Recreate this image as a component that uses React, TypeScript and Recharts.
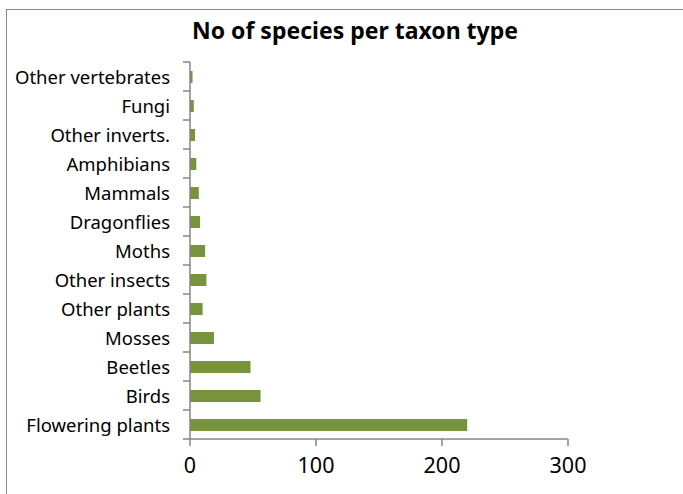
import { BarChart, Bar, XAxis, YAxis } from 'recharts'

// top to bottom, as drawn
const taxa = [
  'Other vertebrates',
  'Fungi',
  'Other inverts.',
  'Amphibians',
  'Mammals',
  'Dragonflies',
  'Moths',
  'Other insects',
  'Other plants',
  'Mosses',
  'Beetles',
  'Birds',
  'Flowering plants',
]
const species = [2, 3, 4, 5, 7, 8, 12, 13, 10, 19, 48, 56, 220]
const xTicks = [0, 100, 200, 300]

const data = taxa.map((t, i) => ({ taxon: t, n: species[i] }))

const W = 683
const H = 494
const TOP = 62
const BOTTOM = 439
const BAND = (BOTTOM - TOP) / taxa.length
const GREY = '#868686'
const FONT = '"Noto Sans", "Open Sans", sans-serif'

function TaxonTick(props: any) {
  const { x, y, payload, index } = props
  const ax = x + 20
  return (
    <g>
      <text
        x={x}
        y={y}
        textAnchor="end"
        dominantBaseline="central"
        fontFamily={FONT}
        fontSize={18.5}
        fill="#000"
      >
        {payload.value}
      </text>
      <line x1={ax - 7} x2={ax} y1={y - BAND / 2} y2={y - BAND / 2} stroke={GREY} strokeWidth={1.5} />
      {index === taxa.length - 1 && (
        <line x1={ax - 7} x2={ax} y1={y + BAND / 2} y2={y + BAND / 2} stroke={GREY} strokeWidth={1.5} />
      )}
    </g>
  )
}

export default function App() {
  return (
    <div
      style={{
        position: 'absolute',
        left: 0,
        top: 0,
        width: W,
        height: H,
        overflow: 'hidden',
        background: '#fff',
      }}
    >
      <div
        style={{
          position: 'absolute',
          left: 6,
          top: 9,
          width: W + 20,
          height: H + 20,
          border: '1.5px solid #888',
        }}
      />
      <div
        style={{
          position: 'absolute',
          left: 0,
          width: 710,
          top: 14,
          textAlign: 'center',
          fontFamily: FONT,
          fontWeight: 700,
          fontSize: 23,
          color: '#000',
        }}
      >
        No of species per taxon type
      </div>
      <div style={{ position: 'absolute', left: 0, top: 0 }}>
        <BarChart
          width={W}
          height={H}
          data={data}
          layout="vertical"
          margin={{ top: TOP, right: 115, bottom: H - BOTTOM - 45, left: 0 }}
        >
          <XAxis
            type="number"
            domain={[0, 300]}
            ticks={xTicks}
            height={45}
            axisLine={{ stroke: GREY, strokeWidth: 1.5 }}
            tickLine={{ stroke: GREY, strokeWidth: 1.5 }}
            tickSize={7}
            tickMargin={12}
            tick={{ fontFamily: FONT, fontSize: 21.5, fill: '#000' }}
            interval={0}
          />
          <YAxis
            type="category"
            dataKey="taxon"
            width={190}
            axisLine={{ stroke: GREY, strokeWidth: 1.5 }}
            tickLine={false}
            tickSize={7}
            tickMargin={13}
            tick={<TaxonTick />}
            interval={0}
          />
          <Bar dataKey="n" fill="#77933C" barSize={12} isAnimationActive={false} />
        </BarChart>
      </div>
    </div>
  )
}
